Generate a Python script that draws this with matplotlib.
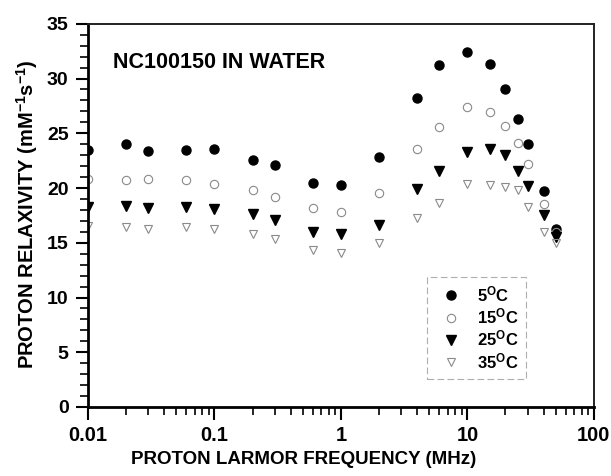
import numpy as np
import matplotlib
matplotlib.use('Agg')
import matplotlib.pyplot as plt
from matplotlib.ticker import LogLocator, FixedLocator, MultipleLocator, NullFormatter

plt.rcParams['font.family'] = 'Liberation Sans'
plt.rcParams['font.weight'] = 'bold'
plt.rcParams['mathtext.fontset'] = 'custom'
plt.rcParams['mathtext.rm'] = 'Liberation Sans:bold'
plt.rcParams['mathtext.bf'] = 'Liberation Sans:bold'
plt.rcParams['mathtext.it'] = 'Liberation Sans:bold'

# frequency in MHz
freq = [0.01, 0.02, 0.03, 0.06, 0.1, 0.2, 0.3, 0.6, 1, 2, 4, 6, 10, 15, 20, 25, 30, 40, 50]
# relaxivity at each temperature
r_5c = [23.5, 24.0, 23.4, 23.5, 23.6, 22.6, 22.1, 20.5, 20.3, 22.8, 28.2, 31.2, 32.4, 31.3, 29.0, 26.3, 24.0, 19.7, 16.3]
r_15c = [20.8, 20.7, 20.8, 20.7, 20.4, 19.8, 19.2, 18.2, 17.8, 19.5, 23.6, 25.6, 27.4, 26.9, 25.7, 24.1, 22.2, 18.5, 16.0]
r_25c = [18.3, 18.4, 18.2, 18.3, 18.1, 17.6, 17.1, 16.0, 15.8, 16.6, 19.9, 21.6, 23.3, 23.6, 23.0, 21.6, 20.2, 17.5, 15.5]
r_35c = [16.5, 16.4, 16.3, 16.4, 16.3, 15.8, 15.3, 14.3, 14.1, 15.0, 17.3, 18.6, 20.4, 20.3, 20.1, 19.8, 18.3, 16.0, 15.0]

fig = plt.figure(figsize=(6.11, 4.76), dpi=100)
ax = fig.add_axes([0.144, 0.145, 0.828, 0.805])

ax.plot(freq, r_5c, 'o', ms=6.5, mfc='black', mec='black', ls='none', label=r'5$^{\mathrm{O}}$C')
ax.plot(freq, r_15c, 'o', ms=6, mfc='none', mec='#8a8a8a', mew=0.8, ls='none', label=r'15$^{\mathrm{O}}$C')
ax.plot(freq, r_25c, 'v', ms=6.5, mfc='black', mec='black', ls='none', label=r'25$^{\mathrm{O}}$C')
ax.plot(freq, r_35c, 'v', ms=6, mfc='none', mec='#8a8a8a', mew=0.8, ls='none', label=r'35$^{\mathrm{O}}$C')

ax.set_xscale('log')
ax.set_xlim(0.01, 100)
ax.set_ylim(0, 35)

ax.xaxis.set_major_locator(FixedLocator([0.01, 0.1, 1, 10, 100]))
ax.set_xticklabels(['0.01', '0.1', '1', '10', '100'])
ax.xaxis.set_minor_locator(LogLocator(base=10, subs=np.arange(2, 10)))
ax.xaxis.set_minor_formatter(NullFormatter())
ax.yaxis.set_major_locator(MultipleLocator(5))
ax.yaxis.set_minor_locator(MultipleLocator(1))

ax.tick_params(axis='both', which='major', direction='out', length=9, width=1.5, labelsize=14.5, pad=5)
ax.tick_params(axis='y', which='major', labelsize=14)
ax.tick_params(axis='both', which='minor', direction='out', length=5.5, width=1.2)
ax.tick_params(top=False, right=False, which='both')

for side in ['left', 'bottom']:
    ax.spines[side].set_linewidth(2)
for side in ['top', 'right']:
    ax.spines[side].set_linewidth(1.4)
    ax.spines[side].set_color('#222222')

ax.set_xlabel('PROTON LARMOR FREQUENCY (MHz)', fontsize=13.5, fontweight='bold')
ax.xaxis.set_label_coords(0.427, -0.115)
ax.set_ylabel(r'PROTON RELAXIVITY (mM$^{\mathrm{-1}}$s$^{\mathrm{-1}}$)', fontsize=14.5, fontweight='bold')
ax.yaxis.label.set_va('center')
ax.yaxis.set_label_coords(-0.12, 0.504)

ax.text(0.049, 0.898, 'NC100150 IN WATER', transform=ax.transAxes, fontsize=15.5, fontweight='bold', va='center')

leg = ax.legend(loc='upper left', bbox_to_anchor=(0.67, 0.34), fontsize=12, frameon=True,
                fancybox=False, borderpad=0.45, labelspacing=0.15, handletextpad=0.55,
                handlelength=2.0, borderaxespad=0)
leg.get_frame().set_edgecolor('#9a9a9a')
leg.get_frame().set_linewidth(0.8)
leg.get_frame().set_linestyle((0, (6, 3)))

fig.savefig('out.png', dpi=100)
